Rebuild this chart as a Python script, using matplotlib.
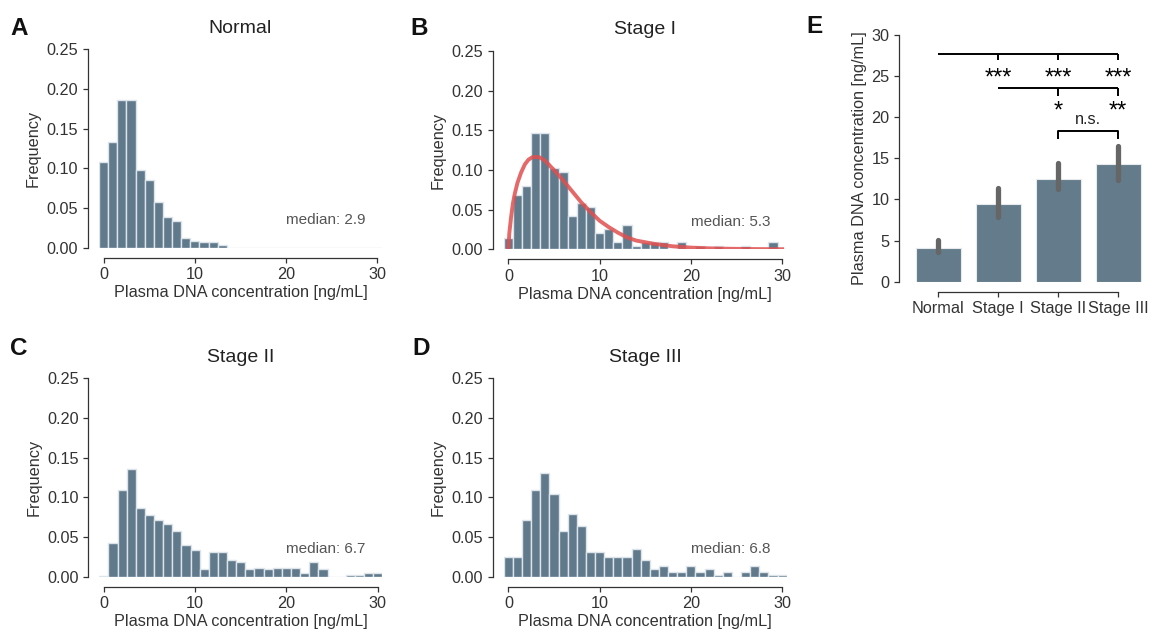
import numpy as np
import matplotlib
matplotlib.use("Agg")
import matplotlib.pyplot as plt

plt.rcParams['font.family'] = ['Liberation Sans', 'DejaVu Sans']

# histogram bins (bin centres, width 1 ng/mL)
bin_centers = np.arange(31)

freq_normal = [0.108, 0.133, 0.186, 0.186, 0.098, 0.085, 0.058, 0.039, 0.033, 0.012,
               0.008, 0.0067, 0.0067, 0.0034, 0, 0, 0, 0, 0, 0,
               0, 0, 0, 0, 0, 0, 0, 0, 0, 0, 0]
freq_stage1 = [0.0147, 0.069, 0.080, 0.147, 0.147, 0.103, 0.097, 0.042, 0.058, 0.053,
               0.020, 0.0255, 0.009, 0.031, 0.004, 0.009, 0.009, 0.009, 0, 0.009,
               0, 0.004, 0, 0.004, 0, 0, 0.004, 0, 0, 0.009, 0]
freq_stage2 = [0.001, 0.0427, 0.109, 0.1357, 0.087, 0.078, 0.071, 0.067, 0.058, 0.040,
               0.0335, 0.0092, 0.0314, 0.0314, 0.0205, 0.018, 0.0092, 0.0113, 0.0092, 0.0113,
               0.0113, 0.0113, 0.0046, 0.018, 0.0092, 0, 0, 0.0025, 0.0025, 0.0046, 0.0046]
freq_stage3 = [0.0243, 0.0243, 0.072, 0.109, 0.1307, 0.1047, 0.057, 0.0787, 0.0645, 0.031,
               0.031, 0.0243, 0.0243, 0.0243, 0.0348, 0.0205, 0.0092, 0.013, 0.0054, 0.0054,
               0.013, 0.0054, 0.0092, 0.002, 0.0054, 0, 0.0054, 0.013, 0.0054, 0.002, 0.002]

# fitted density for Stage I
fit_x = [0, 0.1, 0.3, 0.5, 0.7, 1.0, 1.4, 1.8, 2.2, 2.6, 3.0, 3.4, 4.0, 5.0, 6.0, 7.0,
         8.0, 9.0, 10.0, 11.0, 12.0, 13.0, 14.0, 16.0, 18.0, 20.0, 22.0, 24.0, 26.0, 28.0, 30.0]
fit_y = [0, 0.020, 0.041, 0.058, 0.070, 0.084, 0.097, 0.107, 0.113, 0.116, 0.1165, 0.116, 0.112,
         0.100, 0.087, 0.073, 0.059, 0.047, 0.036, 0.028, 0.021, 0.015, 0.011, 0.0068, 0.0038,
         0.0021, 0.0012, 0.0007, 0.0004, 0.0002, 0.0001]

medians = [2.9, 5.3, 6.7, 6.8]
hist_titles = ["Normal", "Stage I", "Stage II", "Stage III"]
hist_letters = ["A", "B", "C", "D"]

# panel E
groups = ["Normal", "Stage I", "Stage II", "Stage III"]
group_mean = [4.13, 9.49, 12.53, 14.31]
ci_low = [3.57, 7.9, 11.27, 12.36]
ci_high = [5.07, 11.43, 14.39, 16.5]

BAR = "#607a8c"
EDGE = "#dde4e9"
TXT = "#333333"
FS = 11.7

fig = plt.figure(figsize=(11.5, 6.34), dpi=100)


def despine(ax, xb, yb, left_off=8, bottom_off=7.2):
    ax.spines['top'].set_visible(False)
    ax.spines['right'].set_visible(False)
    ax.spines['left'].set_position(('outward', left_off))
    ax.spines['bottom'].set_position(('outward', bottom_off))
    ax.spines['left'].set_bounds(*yb)
    ax.spines['bottom'].set_bounds(*xb)
    for s in ['left', 'bottom']:
        ax.spines[s].set_color(TXT)
        ax.spines[s].set_linewidth(0.9)
    ax.tick_params(length=3.5, width=0.9, color=TXT, labelcolor=TXT, labelsize=FS)


# axes positions [left, bottom, width, height] in figure fractions
hist_pos = [
    [0.0861, 0.6096, 0.246, 0.3126],
    [0.4381, 0.6068, 0.246, 0.3126],
    [0.0864, 0.0904, 0.246, 0.3126],
    [0.4381, 0.0904, 0.246, 0.3126],
]
all_freq = [freq_normal, freq_stage1, freq_stage2, freq_stage3]

for i in range(4):
    ax = fig.add_axes(hist_pos[i])
    ax.bar(bin_centers, all_freq[i], width=1, color=BAR, edgecolor=EDGE, linewidth=1)
    if i == 1:
        ax.plot(fit_x, fit_y, color="#e04f4f", lw=2.8, alpha=0.85)
    ax.set_xlim(-0.5, 30.5)
    ax.set_ylim(0, 0.25)
    ax.set_xticks([0, 10, 20, 30])
    ax.set_yticks([0, 0.05, 0.10, 0.15, 0.20, 0.25])
    ax.set_yticklabels(["0.00", "0.05", "0.10", "0.15", "0.20", "0.25"])
    despine(ax, (0, 30), (0, 0.25))
    ax.set_title(hist_titles[i], fontsize=14, color="#222222", pad=12)
    ax.set_xlabel("Plasma DNA concentration [ng/mL]", fontsize=FS, color=TXT, labelpad=2)
    ax.set_ylabel("Frequency", fontsize=FS, color=TXT)
    ax.text(20, 0.03, f"median: {medians[i]}", fontsize=11, color="#555555",
            ha="left", va="baseline")

# panel letters
letter_xy = [(10, 35), (410, 35), (10, 355), (412, 355), (806, 33)]
for (lx, ly), letter in zip(letter_xy, hist_letters + ["E"]):
    fig.text(lx / 1150, 1 - ly / 634, letter, fontsize=17.5, fontweight="bold", color="#111111")

# panel E: bar chart with CI and significance brackets
axE = fig.add_axes([0.7898, 0.5557, 0.2087, 0.3891])
xpos = np.arange(len(groups))
axE.bar(xpos, group_mean, width=0.75, color="#637b8b", edgecolor="#e6eaed", linewidth=0.8)
for x, lo, hi in zip(xpos, ci_low, ci_high):
    axE.plot([x, x], [lo, hi], color="#666666", lw=3.8, solid_capstyle="round")
axE.set_xlim(-0.5, 3.5)
axE.set_ylim(0, 30)
axE.set_xticks(xpos)
axE.set_xticklabels(groups)
axE.set_yticks([0, 5, 10, 15, 20, 25, 30])
despine(axE, (0, 3), (0, 30), left_off=6.5, bottom_off=7.2)
axE.set_ylabel("Plasma DNA concentration [ng/mL]", fontsize=FS, color=TXT, labelpad=3)

blk = dict(color="black", lw=1.4, solid_capstyle="butt")
# Normal vs stages
axE.plot([0, 3], [27.7, 27.7], **blk)
for x in [1, 2, 3]:
    axE.plot([x, x], [27.7, 26.9], **blk)
    axE.text(x, 24.0, "***", fontsize=17, ha="center", va="baseline")
# Stage I vs II/III
axE.plot([1, 3], [23.5, 23.5], **blk)
for x, s in [(2, "*"), (3, "**")]:
    axE.plot([x, x], [23.5, 22.6], **blk)
    axE.text(x, 20.0, s, fontsize=17, ha="center", va="baseline")
# Stage II vs III
axE.plot([2, 2, 3, 3], [17.4, 18.3, 18.3, 17.4], **blk)
axE.text(2.5, 19.2, "n.s.", fontsize=FS, ha="center", va="baseline", color="#222222")

fig.savefig("out.png", dpi=100)
